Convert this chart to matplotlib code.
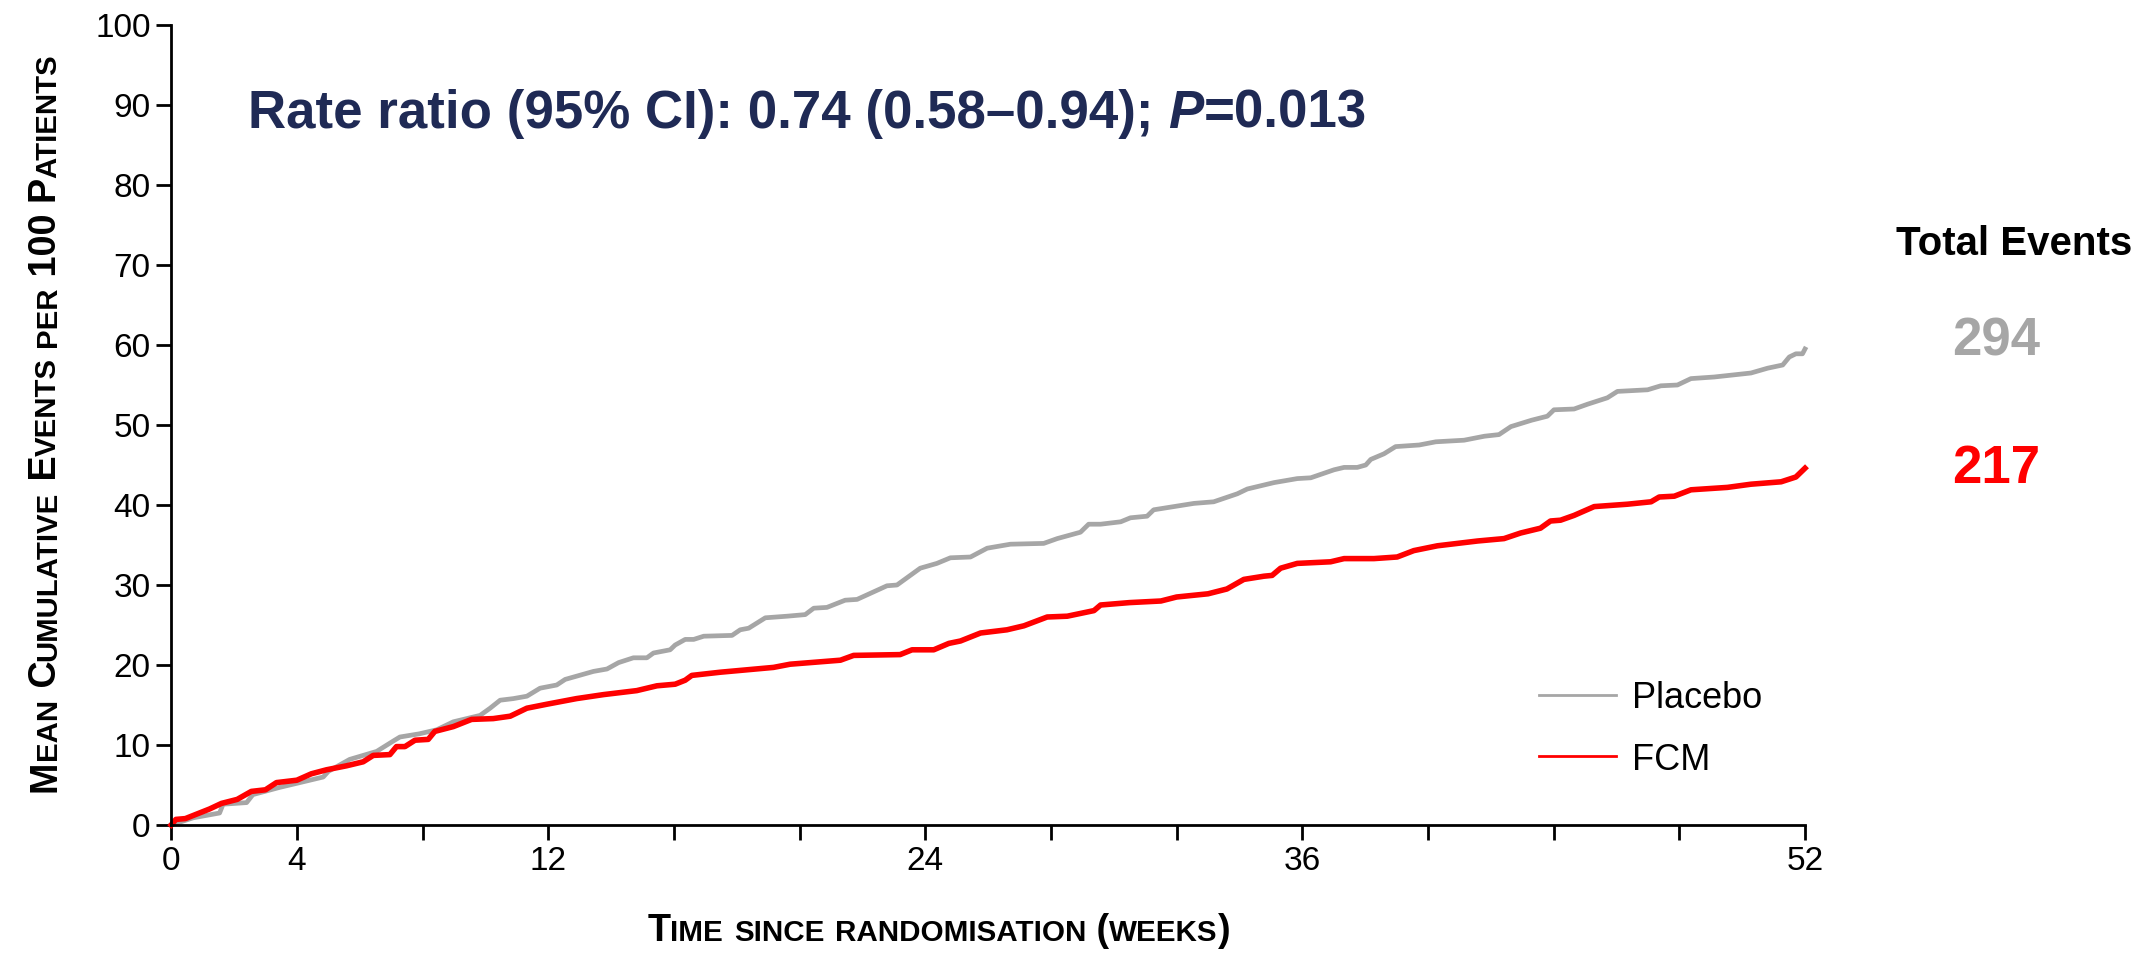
import matplotlib
matplotlib.use("Agg")
import matplotlib.pyplot as plt
from matplotlib import font_manager
from matplotlib.transforms import IdentityTransform
from matplotlib.lines import Line2D

# Arial-like font
names = {f.name for f in font_manager.fontManager.ttflist}
SANS = "Liberation Sans" if "Liberation Sans" in names else "DejaVu Sans"

# ---- data (weeks, mean cumulative events per 100 patients)
placebo_weeks = [0, 0.7, 1.54, 1.65, 2.4, 2.6, 3.45, 3.88, 4.84, 5.0, 5.68, 6.54, 7.07, 7.28,
                 7.9, 8.45, 8.98, 9.83, 10.15, 10.47, 10.89, 11.32, 11.74, 12.27, 12.54, 13.44,
                 13.87, 14.24, 14.71, 15.14, 15.35, 15.88, 16.04, 16.36, 16.63, 16.95, 17.85,
                 18.11, 18.38, 18.91, 19.6, 20.18, 20.45, 20.87, 21.45, 21.83, 22.78, 23.1,
                 23.84, 24.37, 24.8, 25.44, 25.97, 26.71, 27.77, 28.2, 28.94, 29.2, 29.58,
                 30.22, 30.53, 31.06, 31.27, 31.91, 32.55, 33.18, 33.93, 34.25, 35.1, 35.84,
                 36.27, 37.01, 37.33, 37.75, 38.02, 38.18, 38.6, 38.97, 39.72, 40.25, 41.15,
                 41.8, 42.26, 42.64, 43.3, 43.8, 44.01, 44.65, 45.08, 45.71, 46.03, 46.99,
                 47.41, 47.94, 48.37, 49.11, 50.28, 50.81, 51.29, 51.5, 51.71, 51.92, 52.0]
placebo = [0, 0.9, 1.5, 2.6, 2.8, 3.8, 4.7, 5.1, 6.0, 6.7, 8.2, 9.2, 10.5, 11.0,
           11.4, 11.9, 12.9, 13.7, 14.6, 15.6, 15.8, 16.1, 17.1, 17.5, 18.2, 19.2,
           19.5, 20.3, 20.9, 20.9, 21.5, 21.9, 22.5, 23.2, 23.2, 23.6, 23.7,
           24.4, 24.6, 25.9, 26.1, 26.3, 27.1, 27.2, 28.1, 28.2, 29.9, 30.0,
           32.1, 32.7, 33.4, 33.5, 34.6, 35.1, 35.2, 35.8, 36.6, 37.6, 37.6,
           37.9, 38.4, 38.6, 39.4, 39.8, 40.2, 40.4, 41.4, 42.0, 42.8, 43.3,
           43.4, 44.4, 44.7, 44.7, 45.0, 45.7, 46.4, 47.3, 47.5, 47.9, 48.1,
           48.6, 48.8, 49.8, 50.6, 51.1, 51.9, 52.0, 52.6, 53.4, 54.2, 54.4,
           54.9, 55.0, 55.8, 56.0, 56.5, 57.1, 57.5, 58.5, 58.9, 58.9, 59.5]

fcm_weeks = [0, 0.15, 0.45, 1.22, 1.6, 2.1, 2.55, 3.0, 3.35, 4.0, 4.46, 4.94, 5.58, 6.11,
             6.43, 6.96, 7.17, 7.44, 7.76, 8.18, 8.39, 8.98, 9.56, 10.25, 10.79, 11.32,
             11.96, 12.9, 13.76, 14.82, 15.46, 16.04, 16.36, 16.57, 17.48, 19.17, 19.7,
             21.3, 21.72, 23.2, 23.58, 24.27, 24.75, 25.12, 25.76, 26.6, 27.14, 27.88,
             28.52, 29.37, 29.58, 30.5, 31.5, 32.0, 33.0, 33.6, 34.14, 34.78, 35.04,
             35.31, 35.84, 36.9, 37.33, 38.28, 39.02, 39.55, 40.3, 41.58, 42.42, 42.95,
             43.58, 43.9, 44.22, 44.65, 45.29, 46.35, 47.1, 47.36, 47.84, 48.37, 49.53,
             50.28, 51.24, 51.71, 52.0]
fcm = [0, 0.7, 0.8, 2.0, 2.7, 3.2, 4.2, 4.4, 5.3, 5.6, 6.4, 6.9, 7.4, 7.9,
       8.7, 8.8, 9.8, 9.8, 10.6, 10.7, 11.7, 12.3, 13.2, 13.3, 13.6, 14.6,
       15.1, 15.8, 16.3, 16.8, 17.4, 17.6, 18.1, 18.7, 19.1, 19.7, 20.1,
       20.6, 21.2, 21.3, 21.9, 21.9, 22.7, 23.0, 24.0, 24.4, 24.9, 26.0,
       26.1, 26.8, 27.5, 27.8, 28.0, 28.5, 28.9, 29.5, 30.7, 31.1, 31.2,
       32.1, 32.7, 32.9, 33.3, 33.3, 33.5, 34.3, 34.9, 35.5, 35.8, 36.5,
       37.1, 38.0, 38.1, 38.7, 39.8, 40.1, 40.4, 41.0, 41.1, 41.9, 42.2,
       42.6, 42.9, 43.5, 44.6]

series_names = ["Placebo", "FCM"]
series_colors = ["#a6a6a6", "#ff0000"]
total_events = ["294", "217"]

xticks = list(range(0, 53, 4))
xtick_labels = ["0", "4", "", "12", "", "", "24", "", "", "36", "", "", "", "52"]
yticks = list(range(0, 101, 10))

title_parts = [("Rate ratio (95% CI): 0.74 (0.58\u20130.94); ", "normal"),
               ("P", "italic"),
               ("=0.013", "normal")]
ylabel_text = "Mean Cumulative Events per 100 Patients"
xlabel_text = "Time since randomisation (weeks)"

W, H = 2151, 959
fig = plt.figure(figsize=(W / 100, H / 100), dpi=100)
ax = fig.add_axes([171.2 / W, 134 / H, 1633.8 / W, 800 / H])
renderer = fig.canvas.get_renderer()
PIX = IdentityTransform()

ax.plot(placebo_weeks, placebo, color=series_colors[0], lw=3.4, solid_joinstyle="round", clip_on=False)
ax.plot(fcm_weeks, fcm, color=series_colors[1], lw=4.0, solid_joinstyle="round", clip_on=False)

ax.set_xlim(0, 52)
ax.set_ylim(0, 100)
for s in ["top", "right"]:
    ax.spines[s].set_visible(False)
for s in ["left", "bottom"]:
    ax.spines[s].set_linewidth(2.0)
ax.set_xticks(xticks)
ax.set_xticklabels(xtick_labels, fontfamily=SANS, fontsize=24)
ax.set_yticks(yticks)
ax.set_yticklabels([str(v) for v in yticks], fontfamily=SANS, fontsize=24)
ax.tick_params(axis="both", direction="out", length=10.8, width=2.0)
ax.tick_params(axis="x", pad=4)
ax.tick_params(axis="y", pad=4)


def text_width(s, size, **kw):
    # advance width incl. spaces, measured between two bars
    a = fig.text(0, 0, "|" + s + "|", fontsize=size, **kw)
    b = fig.text(0, 0, "||", fontsize=size, **kw)
    w = a.get_window_extent(renderer).width - b.get_window_extent(renderer).width
    a.remove()
    b.remove()
    return w


def place_runs(runs, start, base, target, rotation=0, center=False, **kw):
    # runs: list of (text, rel_size, extra kw); scaled so the total length == target px
    ref = sum(text_width(t, 10 * r, **kw, **ex) for t, r, ex in runs)
    k = 10 * target / ref
    pos = start - target / 2 if center else start
    for t, r, ex in runs:
        w = text_width(t, k * r, **kw, **ex)
        if rotation == 90:
            fig.text(base, pos, t, fontsize=k * r, rotation=90, rotation_mode="anchor",
                     ha="left", va="baseline", transform=PIX, **kw, **ex)
        else:
            fig.text(pos, base, t, fontsize=k * r, ha="left", va="baseline",
                     transform=PIX, **kw, **ex)
        pos += w


def small_caps(s, ratio=0.78):
    runs = []
    for ch in s:
        r = ratio if ch.islower() else 1.0
        if runs and runs[-1][1] == r:
            runs[-1][0] += ch.upper()
        else:
            runs.append([ch.upper(), r])
    return [(t, r, {}) for t, r in runs]


# title annotation
place_runs([(t, 1.0, {"fontstyle": st}) for t, st in title_parts], 248, H - 128, 1121,
           fontfamily=SANS, fontweight="bold", color="#1f2a55")

# axis labels in small caps
place_runs(small_caps(ylabel_text), (H - 791.5 + H - 50.8) / 2, 56, 741, rotation=90, center=True,
           fontfamily=SANS, fontweight="bold", color="black")
place_runs(small_caps(xlabel_text), 940, H - 941, 585, center=True,
           fontfamily=SANS, fontweight="bold", color="black")

# totals on the right
fig.text(2132, H - 255, "Total Events", transform=PIX, ha="right", va="baseline",
         fontfamily=SANS, fontweight="bold", fontsize=29, color="black")
for i, (val, col) in enumerate(zip(total_events, series_colors)):
    fig.text(1996, H - 355 - 128 * i, val, transform=PIX, ha="center", va="baseline",
             fontfamily=SANS, fontweight="bold", fontsize=38, color=col)

# legend drawn by hand
for i, (name, col) in enumerate(zip(series_names, series_colors)):
    y = H - 695 - 61 * i
    fig.add_artist(Line2D([1539, 1616], [y, y], color=col, lw=2.0, transform=PIX))
    fig.text(1632, y, name, transform=PIX, ha="left", va="center_baseline",
             fontfamily=SANS, fontsize=26, color="black")

fig.savefig("out.png", dpi=100, facecolor="white")
